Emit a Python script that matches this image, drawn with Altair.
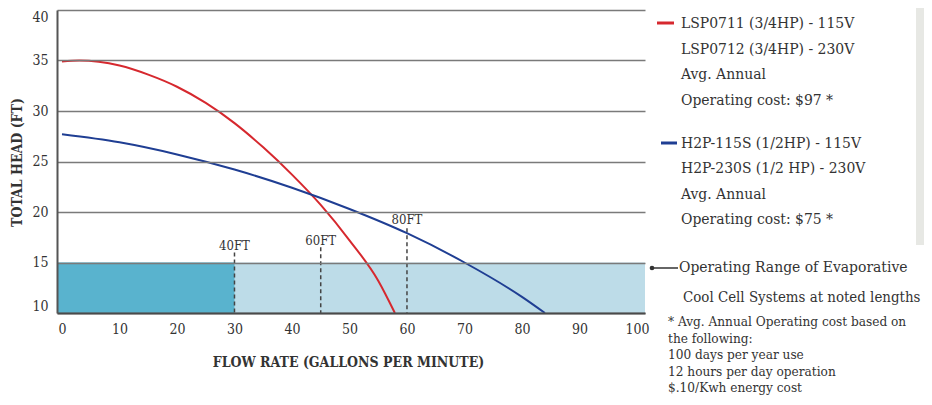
import altair as alt
import pandas as pd

FONT = "DejaVu Serif Condensed, DejaVu Serif"

flow_ticks = [0, 10, 20, 30, 40, 50, 60, 70, 80, 90, 100]
head_ticks = [10, 15, 20, 25, 30, 35, 40]

red_flow = [0, 3, 10, 15, 20, 25, 30, 35, 40, 45, 50, 55, 57.9]
red_head = [34.9, 35.0, 34.5, 33.6, 32.4, 30.8, 28.8, 26.4, 23.7, 20.7, 17.2, 13.2, 10.0]

blue_flow = [0, 10, 20, 30, 40, 50, 60, 70, 80, 84]
blue_head = [27.7, 26.9, 25.7, 24.2, 22.4, 20.3, 17.9, 15.0, 11.6, 10.0]

range_labels = ["40FT", "60FT", "80FT"]
range_flow = [30, 45, 60]
range_top = [16.0, 16.5, 18.4]
range_label_head = [16.6, 17.1, 19.2]

band_low, band_high = 10, 15
band_dark_end = 30

red_legend = ["LSP0711 (3/4HP) - 115V", "LSP0712 (3/4HP) - 230V", "Avg. Annual", "Operating cost: $97 *"]
blue_legend = ["H2P-115S (1/2HP) - 115V", "H2P-230S (1/2 HP) - 230V", "Avg. Annual", "Operating cost: $75 *"]
range_text_1 = "Operating Range of Evaporative"
range_text_2 = "Cool Cell Systems at noted lengths"
footnote = ["* Avg. Annual Operating cost based on", "the following:", "100 days per year use",
            "12 hours per day operation", "$.10/Kwh energy cost"]

RED = "#d6282e"
BLUE = "#1f3e93"
TXT = "#333333"

# plot area: page x 57..645, y 10..313
W, H = 588, 303
TOP = 2
xs = alt.Scale(domain=[-0.87, 101.4], nice=False, zero=False)
ys = alt.Scale(domain=[10, 40], nice=False, zero=False)

X_AX = alt.Axis(
    values=flow_ticks, grid=False, domainColor="#4a4a4a", domainWidth=2,
    ticks=False, labelPadding=9, labelFontSize=14, labelColor=TXT, zindex=1,
    title="FLOW RATE (GALLONS PER MINUTE)", titleFontSize=14, titleFontWeight="bold",
    titleColor=TXT, titleX=291, titleY=49, titleAlign="center", titleBaseline="middle")
Y_AX = alt.Axis(
    values=head_ticks, grid=True, gridColor="#7a7a7a", gridWidth=1.3,
    domainColor="#555555", domainWidth=2, ticks=False, labelPadding=9,
    labelFontSize=14, labelColor=TXT, zindex=1, labelFlush=True,
    title="TOTAL HEAD (FT)", titleFontSize=14, titleFontWeight="bold",
    titleColor=TXT, titleX=-40, titleY=152, titleAngle=270,
    titleAlign="center", titleBaseline="middle")

one = pd.DataFrame({"k": [0]})

band = alt.Chart(one).mark_rect(color="#bddce8").encode(
    x=alt.value(0), x2=alt.value(W),
    y=alt.Y(datum=band_low, scale=ys, axis=Y_AX),
    y2=alt.Y2(datum=band_high),
)

dark = alt.Chart(one).mark_rect(color="#59b3ce").encode(
    x=alt.X(datum=band_dark_end, scale=xs, axis=X_AX),
    x2=alt.value(0),
    y=alt.Y(datum=band_low, scale=ys, axis=Y_AX),
    y2=alt.Y2(datum=band_high),
)

rng = pd.DataFrame({"flow": range_flow, "top": range_top, "lab": range_labels, "ly": range_label_head})
dashes = alt.Chart(rng).mark_rule(color="#444444", strokeWidth=1.5, strokeDash=[4, 3]).encode(
    x=alt.X("flow:Q", scale=xs, axis=X_AX),
    y=alt.Y("top:Q", scale=ys, axis=Y_AX),
    y2=alt.Y2(datum=band_low),
)
dash_labels = alt.Chart(rng).mark_text(fontSize=13, color=TXT, baseline="middle").encode(
    x=alt.X("flow:Q", scale=xs, axis=X_AX),
    y=alt.Y("ly:Q", scale=ys, axis=Y_AX),
    text="lab:N",
)

red_df = pd.DataFrame({"flow": red_flow, "head": red_head})
blue_df = pd.DataFrame({"flow": blue_flow, "head": blue_head})
red_line = alt.Chart(red_df).mark_line(color=RED, strokeWidth=2, interpolate="monotone").encode(
    x=alt.X("flow:Q", scale=xs, axis=X_AX), y=alt.Y("head:Q", scale=ys, axis=Y_AX))
blue_line = alt.Chart(blue_df).mark_line(color=BLUE, strokeWidth=2, interpolate="monotone").encode(
    x=alt.X("flow:Q", scale=xs, axis=X_AX), y=alt.Y("head:Q", scale=ys, axis=Y_AX))


def txt(lines, x, y, size, lh):
    # x, y given in page pixels; converted to plot-area coordinates
    return alt.Chart(one).mark_text(
        align="left", baseline="top", fontSize=size, lineHeight=lh, color=TXT,
        lineBreak="\n").encode(x=alt.value(x - 57), y=alt.value(y - 10), text=alt.value("\n".join(lines)))


def seg(x1, x2, y, color, w=3):
    return alt.Chart(one).mark_rule(color=color, strokeWidth=w).encode(
        x=alt.value(x1 - 57), x2=alt.value(x2 - 57), y=alt.value(y - 10))


red_sw = seg(657, 674, 23, RED)
blue_sw = seg(661, 677, 143, BLUE)
red_txt = txt(red_legend, 681, 16, 15.5, 25.6)
blue_txt = txt(blue_legend, 681, 136, 15.5, 25.4)
range_line = seg(652, 678, 268, "#333333", 1.5)
range_dot = alt.Chart(one).mark_point(filled=True, color="#333333", size=22, opacity=1).encode(
    x=alt.value(652 - 57), y=alt.value(268 - 10))
range_t1 = txt([range_text_1], 679, 260, 15.5, 20)
range_t2 = txt([range_text_2], 683, 290, 14.9, 20)
foot = txt(footnote, 668, 315, 13.5, 16.6)
strip = alt.Chart(one).mark_rect(color="#e7e8e4").encode(
    x=alt.value(916 - 57), x2=alt.value(960 - 57), y=alt.value(-10), y2=alt.value(245 - 10))

chart = alt.layer(
    band, dark, dashes, dash_labels, red_line, blue_line,
    red_sw, blue_sw, red_txt, blue_txt, range_line, range_dot, range_t1, range_t2, foot, strip,
).properties(
    width=W, height=H,
    autosize=alt.AutoSizeParams(type="none"),
    padding={"left": 49, "top": TOP, "right": 279, "bottom": 389 - TOP - H},
).configure_view(stroke=None).configure_axis(labelFont=FONT, titleFont=FONT).configure_text(font=FONT)

chart.save("out.html", embed_options={"renderer": "svg", "actions": False})
